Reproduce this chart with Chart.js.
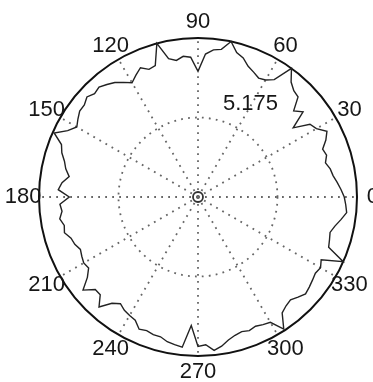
<!DOCTYPE html>
<html>
<head>
<meta charset="utf-8">
<script src="https://cdn.jsdelivr.net/npm/chart.js@4"></script>
<style>
  html, body { margin: 0; padding: 0; background: #fff; overflow: hidden; }
  canvas { display: block; }
</style>
</head>
<body>
<canvas id="c" width="373" height="382"></canvas>
<script>
// Sample directions, degrees, counter-clockwise from 3 o'clock
const thetaDeg = [
  0, 3, 6, 9, 12, 15, 18, 21, 24, 27, 30, 33, 36, 39, 42, 45, 48, 51, 54, 57,
  60, 63, 66, 69, 72, 75, 78, 81, 84, 87, 90, 93, 96, 99, 102, 105, 108, 111, 114, 117,
  120, 123, 126, 129, 132, 135, 138, 141, 144, 147, 150, 153, 156, 159, 162, 165, 168, 171, 174, 177,
  180, 183, 186, 189, 192, 195, 198, 201, 204, 207, 210, 213, 216, 219, 222, 225, 228, 231, 234, 237,
  240, 243, 246, 249, 252, 255, 258, 261, 264, 267, 270, 273, 276, 279, 282, 285, 288, 291, 294, 297,
  300, 303, 306, 309, 312, 315, 318, 321, 324, 327, 330, 333, 336, 339, 342, 345, 348, 351, 354, 357
];

// Radius measured in each direction
const rho = [
  9.52, 9.32, 9.11, 8.90, 8.80, 8.59, 8.80, 8.69, 9.11, 9.42, 8.90, 8.69, 7.66, 8.80, 8.38, 9.21, 9.32, 9.63, 10.35, 9.11,
  8.80, 8.69, 8.90, 9.11, 9.52, 9.73, 10.35, 9.73, 9.63, 9.32, 8.18, 9.11, 9.21, 9.00, 9.21, 10.35, 9.00, 8.90, 9.21, 8.90,
  8.59, 8.90, 9.21, 9.42, 9.63, 9.52, 9.73, 9.52, 9.52, 9.32, 9.11, 9.52, 10.25, 9.52, 9.32, 9.00, 8.80, 8.49, 8.90, 9.11,
  8.38, 9.00, 8.90, 9.11, 8.90, 9.00, 8.69, 8.59, 8.38, 8.49, 8.59, 8.49, 8.90, 9.63, 9.00, 9.00, 9.63, 8.90, 8.59, 8.80,
  8.90, 9.00, 9.42, 9.32, 9.42, 9.42, 9.63, 9.73, 9.83, 8.38, 9.73, 9.63, 10.04, 9.83, 9.52, 9.32, 9.21, 9.32, 9.21, 9.32,
  9.42, 10.25, 9.32, 9.11, 9.00, 9.21, 9.42, 9.32, 9.21, 9.11, 9.21, 9.00, 10.35, 9.11, 9.00, 8.90, 9.11, 9.42, 9.73, 9.63
];

// Labelled spokes and rings
const spokeAngles = [0, 30, 60, 90, 120, 150, 180, 210, 240, 270, 300, 330];
const ringValues = [0, 5.175, 10.35];
const ringLabel = '5.175';

// The radial scale walks clockwise from 3 o'clock (startAngle 90),
// so feed the samples in reverse to make angles grow counter-clockwise.
const order = thetaDeg.map((_, i) => (thetaDeg.length - i) % thetaDeg.length);
const labels = order.map(k => thetaDeg[k]);
const values = order.map(k => rho[k]);

const FONT = '22px "Liberation Sans", Arial, Helvetica, sans-serif';

const polarText = {
  id: 'polarText',
  afterDraw(chart) {
    const s = chart.scales.r;
    const ctx = chart.ctx;
    ctx.save();
    ctx.font = FONT;
    ctx.fillStyle = '#161616';
    ctx.textAlign = 'center';
    ctx.textBaseline = 'middle';
    labels.forEach((lab, i) => {
      if (!spokeAngles.includes(lab)) return;
      const p = s.getPointPosition(i, s.drawingArea * 1.1);
      ctx.fillText(String(lab), p.x, p.y);
    });

    // value of the inner ring
    const d = s.getDistanceFromCenterForValue(ringValues[1]);
    const a = 74 * Math.PI / 180;
    ctx.textAlign = 'left';
    ctx.textBaseline = 'alphabetic';
    ctx.fillText(ringLabel, s.xCenter + Math.cos(a) * d * 1.14, s.yCenter - Math.sin(a) * d * 1.14);

    // origin marker
    ctx.beginPath();
    ctx.lineWidth = 1.8;
    ctx.strokeStyle = '#333';
    ctx.arc(s.xCenter, s.yCenter, 5, 0, Math.PI * 2);
    ctx.stroke();
    ctx.restore();
  }
};

const last = ringValues.length - 1;

new Chart(document.getElementById('c'), {
  type: 'radar',
  data: {
    labels: labels,
    datasets: [{
      data: values,
      borderColor: '#222',
      borderWidth: 1.4,
      pointRadius: 0,
      fill: false,
      tension: 0
    }]
  },
  options: {
    responsive: false,
    animation: false,
    events: [],
    layout: { padding: { left: 39, top: 38, right: 16, bottom: 26 } },
    plugins: { legend: { display: false }, tooltip: { enabled: false } },
    scales: {
      r: {
        min: 0,
        max: ringValues[last],
        startAngle: 90,
        afterBuildTicks: s => { s.ticks = ringValues.map(v => ({ value: v })); },
        ticks: { display: false },
        pointLabels: { display: false },
        grid: {
          circular: true,
          color: c => c.index === last ? '#111' : '#666',
          lineWidth: c => c.index === last ? 2 : 1.8
        },
        border: { dash: c => c.index === last ? [] : [1.8, 5.2] },
        angleLines: {
          color: '#666',
          lineWidth: c => spokeAngles.includes(labels[c.index]) ? 1.8 : 0,
          borderDash: [1.8, 5.2]
        }
      }
    }
  },
  plugins: [polarText]
});
</script>
</body>
</html>
